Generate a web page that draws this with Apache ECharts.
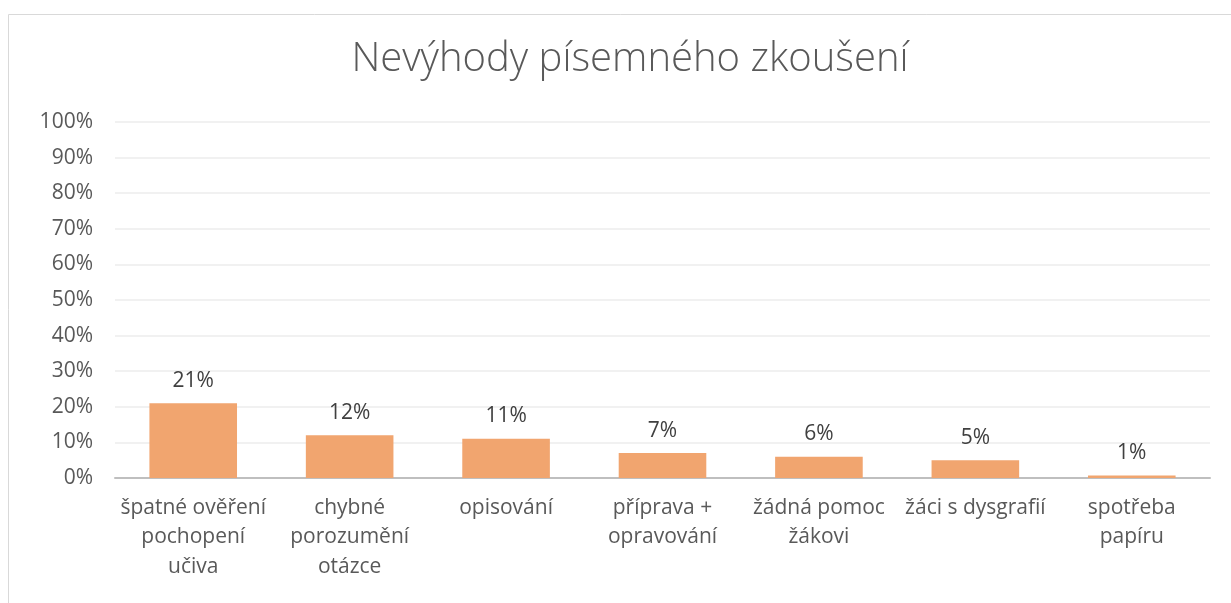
<!DOCTYPE html>
<html>
<head>
<meta charset="utf-8">
<title>Nevýhody písemného zkoušení</title>
<script src="https://cdn.jsdelivr.net/npm/echarts@6/dist/echarts.min.js"></script>
<style>
  html, body { margin: 0; padding: 0; background: #fff; }
  #chart { width: 1231px; height: 603px; }
</style>
</head>
<body>
<div id="chart"></div>
<script>
// data
var categories = [
  'špatné ověření\npochopení\nučiva',
  'chybné\nporozumění\notázce',
  'opisování',
  'příprava +\nopravování',
  'žádná pomoc\nžákovi',
  'žáci s dysgrafií',
  'spotřeba\npapíru'
]
var shares = [21, 12, 11, 7, 6, 5, 0.7]
var yTicks = [0, 10, 20, 30, 40, 50, 60, 70, 80, 90, 100]

var textColor = '#595959'
var mainColor = '#F1A56F'
var font = '"Open Sans", "Noto Sans", sans-serif'

var chart = echarts.init(document.getElementById('chart'), null, { renderer: 'canvas' })
chart.setOption({
  animation: false,
  textStyle: { fontFamily: font },
  title: {
    text: 'Nevýhody písemného zkoušení',
    left: 625,
    top: 35,
    textAlign: 'center',
    textStyle: {
      fontFamily: font,
      fontWeight: 300,
      fontSize: 40,
      color: textColor
    }
  },
  graphic: [{
    type: 'rect',
    shape: { x: 8.5, y: 14.5, width: 1240, height: 600 },
    style: { fill: 'none', stroke: '#d9d9d9', lineWidth: 1 },
    silent: true
  }],
  grid: {
    left: 115,
    right: 21,
    top: 122,
    bottom: 125
  },
  xAxis: {
    type: 'category',
    data: categories,
    axisTick: { show: false },
    axisLine: { lineStyle: { color: '#bfbfbf', width: 2 } },
    axisLabel: {
      interval: 0,
      margin: 15,
      fontSize: 21,
      lineHeight: 29.5,
      color: textColor,
      fontFamily: font
    }
  },
  yAxis: {
    type: 'value',
    min: yTicks[0],
    max: yTicks[yTicks.length - 1],
    interval: 10,
    axisLine: { show: false },
    axisTick: { show: false },
    axisLabel: {
      formatter: '{value}%',
      margin: 22,
      fontSize: 21,
      color: textColor,
      fontFamily: font
    },
    splitLine: { lineStyle: { color: '#ececec', width: 1.5 } }
  },
  series: [{
    type: 'bar',
    data: shares,
    barWidth: '56%',
    itemStyle: { color: mainColor },
    label: {
      show: true,
      position: 'top',
      distance: 12,
      fontSize: 21,
      color: '#404040',
      fontFamily: font,
      formatter: function (p) { return Math.round(p.value) + '%' }
    }
  }]
})
</script>
</body>
</html>
